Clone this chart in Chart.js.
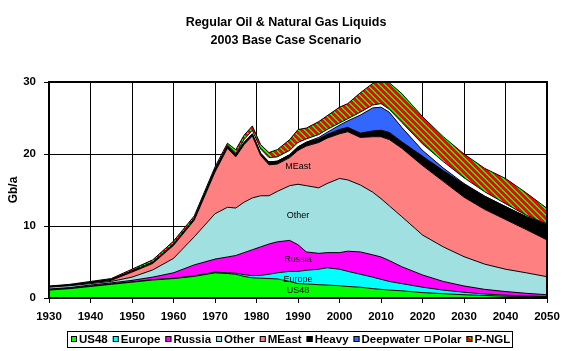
<!DOCTYPE html>
<html><head><meta charset="utf-8">
<script src="https://cdn.jsdelivr.net/npm/chart.js@4/dist/chart.umd.min.js"></script>
<style>html,body{margin:0;padding:0;background:#fff}</style>
</head><body>
<canvas id="c" width="572" height="351"></canvas>
<script>
// ---- data (Gb/a) ----
const years = [1930,1935,1940,1945,1950,1955,1960,1965,1970,1973,1975,1977,1979,1981,1983,1985,1988,1990,1992,1995,1997,2000,2002,2005,2008,2010,2012,2015,2020,2025,2030,2035,2040,2045,2050];
const us48 = [1.1,1.3,1.6,1.9,2.2,2.5,2.7,3.0,3.5,3.4,3.3,3.0,2.8,2.75,2.7,2.65,2.3,2.0,1.95,1.85,1.8,1.7,1.6,1.5,1.3,1.2,1.1,1.0,0.75,0.6,0.45,0.35,0.25,0.2,0.15];
const europe = [0.05,0.05,0.05,0.05,0.05,0.05,0.05,0.1,0.1,0.1,0.15,0.25,0.3,0.4,0.6,0.85,1.4,1.7,1.9,2.15,2.4,2.3,2.1,1.8,1.6,1.4,1.2,1.0,0.75,0.5,0.35,0.2,0.15,0.08,0.05];
const russia = [0.1,0.1,0.15,0.15,0.2,0.35,0.75,1.5,1.8,2.2,2.45,3.05,3.6,3.95,4.2,4.3,4.3,3.7,2.55,2.2,2.1,2.3,2.8,3.1,3.1,3.1,2.9,2.35,1.7,1.2,0.87,0.65,0.5,0.37,0.26];
const other = [0.25,0.25,0.2,0.2,0.45,1.0,2.0,3.9,6.3,6.9,6.6,7.0,7.2,7.1,6.7,7.0,7.6,8.4,9.2,9.1,9.6,10.3,9.9,9.3,8.7,8.1,7.6,6.95,5.55,4.8,4.07,3.5,3.1,2.85,2.5];
const meast = [0.05,0.05,0.1,0.15,0.7,0.9,1.8,2.3,5.8,8.2,7.1,8.0,8.6,5.6,4.3,3.8,3.9,4.7,5.5,6.3,6.3,6.2,6.7,6.6,7.7,8.6,9.2,9.5,9.65,9.1,8.26,7.6,6.9,6.0,5.1];
const heavy = [0.05,0.05,0.05,0.1,0.15,0.15,0.2,0.2,0.3,0.3,0.3,0.3,0.3,0.3,0.4,0.4,0.4,0.5,0.5,0.5,0.5,0.6,0.6,0.6,0.8,0.9,1.0,0.9,1.3,1.5,1.8,1.8,1.8,1.8,2.14];
const deepwater = [0,0,0,0,0,0,0,0,0,0,0,0,0,0,0,0,0,0,0.05,0.2,0.3,0.6,0.9,2.5,3.2,3.2,2.8,2.0,0.8,0.35,0.1,0.05,0,0,0];
const polar = [0,0,0,0,0,0,0,0,0,0,0.1,0.4,0.5,0.6,0.6,0.6,0.6,0.6,0.45,0.4,0.4,0.3,0.3,0.4,0.4,0.5,0.4,0.7,0.9,0.9,0.8,0.6,0.4,0.2,0.05];
const pngl = [0.05,0.1,0.15,0.15,0.25,0.35,0.4,0.4,0.4,0.4,0.6,0.6,0.6,0.6,0.7,1.0,1.5,1.8,1.5,1.8,1.9,2.2,2.1,2.7,3.0,3.3,3.7,4.0,3.8,3.45,3.3,3.25,3.5,3.1,2.2];

const seriesNames = ['US48','Europe','Russia','Other','MEast','Heavy','Deepwater','Polar','P-NGL'];
const seriesData = [us48, europe, russia, other, meast, heavy, deepwater, polar, pngl];
const titleLines = ['Regular Oil & Natural Gas Liquids','2003 Base Case Scenario'];
const yTitle = 'Gb/a';
// in-chart labels: text, year, value
const areaLabels = ['MEast','Other','Russia','Europe','US48'];
const areaLabelYear = [1990,1990,1990,1990,1990];
const areaLabelValue = [18.3,11.4,5.3,2.6,1.0];

// ---- styles ----
const FONT = 'Arial, "Liberation Sans", sans-serif';
function hatchPattern(){
  const n = 6, c = document.createElement('canvas');
  c.width = n; c.height = n;
  const g = c.getContext('2d');
  g.fillStyle = '#ff0000'; g.fillRect(0,0,n,n);
  g.fillStyle = '#00ff00';
  for (let yy=0; yy<n; yy++) for (let xx=0; xx<n; xx++) {
    const d = ((xx - yy) % n + n) % n;
    if (d < 2) g.fillRect(xx,yy,1,1);
  }
  return g.createPattern(c,'repeat');
}
const hatch = hatchPattern();
const fills = ['#00ff00','#00ffff','#ff00ff','#a0e0e0','#ff8080','#000000','#3366ff','#ffffff',hatch];

Chart.defaults.font.family = FONT;
Chart.defaults.color = '#000';

const datasets = seriesData.map((d,i)=>({
  label: seriesNames[i], data: d,
  backgroundColor: fills[i], borderColor: '#000', borderWidth: 1,
  fill: i === 0 ? 'origin' : '-1', pointRadius: 0, tension: 0
}));

const decor = {
  id: 'decor',
  afterDatasetsDraw(chart){
    const {ctx, chartArea:a, scales:{x,y}} = chart;
    ctx.save();
    ctx.font = '9px ' + FONT; ctx.fillStyle = '#000';
    ctx.textAlign = 'center'; ctx.textBaseline = 'middle';
    areaLabels.forEach((t,i)=>ctx.fillText(t, x.getPixelForValue(areaLabelYear[i]), y.getPixelForValue(areaLabelValue[i])));
    ctx.lineWidth = 2; ctx.strokeStyle = '#000';
    ctx.strokeRect(a.left, a.top, a.right-a.left, a.bottom-a.top);
    ctx.restore();
  },
  afterDraw(chart){
    const ctx = chart.ctx;
    ctx.save();
    ctx.font = 'bold 11.5px ' + FONT;
    const box = 6, gapT = 2, gapI = 5, pad = 3;
    const widths = seriesNames.map(t=>ctx.measureText(t).width);
    const total = widths.reduce((s,w)=>s+w,0) + seriesNames.length*(box+gapT) + (seriesNames.length-1)*gapI + 2*pad;
    const cx = 290, top = 331, h = 16;
    let x0 = Math.round(cx - total/2);
    ctx.fillStyle = '#fff'; ctx.fillRect(x0, top, total, h);
    ctx.lineWidth = 1; ctx.strokeStyle = '#000';
    ctx.strokeRect(x0+0.5, top+0.5, Math.round(total), h);
    let x = x0 + pad + 1;
    ctx.textBaseline = 'middle'; ctx.textAlign = 'left';
    seriesNames.forEach((t,i)=>{
      ctx.fillStyle = fills[i];
      ctx.fillRect(x, top+5, box, box);
      ctx.strokeRect(x+0.5, top+5.5, box-1, box-1);
      ctx.fillStyle = '#000';
      ctx.fillText(t, x+box+gapT, top+h/2+0.5);
      x += box + gapT + widths[i] + gapI;
    });
    ctx.restore();
  }
};

new Chart(document.getElementById('c'), {
  type: 'line',
  data: { labels: years, datasets },
  plugins: [decor],
  options: {
    responsive: false, animation: false, devicePixelRatio: 1,
    layout: { padding: 0 },
    plugins: {
      legend: { display: false }, tooltip: { enabled: false },
      title: { display: true, text: titleLines, color: '#000',
        font: { size: 12.5, weight: 'bold', lineHeight: 1.408 },
        padding: { top: 14, bottom: 32.8 } }
    },
    scales: {
      x: { type: 'linear', min: 1930, max: 2050,
        ticks: { stepSize: 10, autoSkip: false, maxRotation: 0, padding: 7,
          font: { size: 11.5, weight: 'bold' }, callback: v => String(v) },
        grid: { color: '#000', lineWidth: 1, tickLength: 5 },
        border: { display: false },
        afterFit(s){ s.height = 53; } },
      y: { type: 'linear', stacked: true, min: 0, max: 30,
        ticks: { stepSize: 10, padding: 8, font: { size: 11.5, weight: 'bold' } },
        grid: { color: '#000', lineWidth: 1, tickLength: 5 },
        border: { display: false },
        title: { display: true, text: yTitle, font: { size: 12, weight: 'bold' }, padding: { top: 6, bottom: 0 } },
        afterFit(s){ s.width = 49; } },
      yr: { type: 'linear', position: 'right', display: true,
        ticks: { display: false }, grid: { display: false, drawTicks: false },
        border: { display: false },
        afterFit(s){ s.width = 25; } }
    }
  }
});
</script>
</body></html>
